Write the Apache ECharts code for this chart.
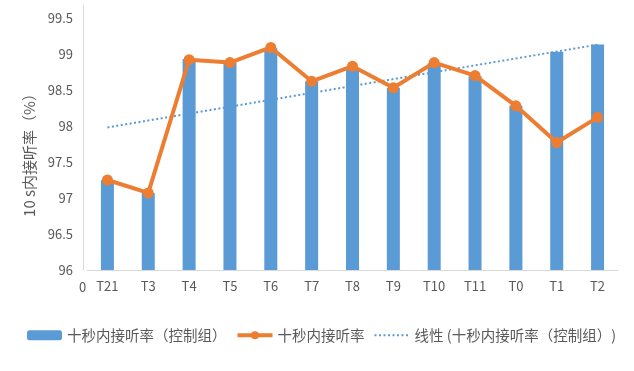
<!DOCTYPE html>
<html>
<head>
<meta charset="utf-8">
<script src="https://cdn.jsdelivr.net/npm/echarts@6/dist/echarts.min.js"></script>
<style>
html,body{margin:0;padding:0;background:#fff;}
#chart{width:634px;height:371px;}
</style>
</head>
<body>
<div id="chart"></div>
<script>
const categories = ['T21','T3','T4','T5','T6','T7','T8','T9','T10','T11','T0','T1','T2'];
const controlRate = [97.25, 97.07, 98.93, 98.88, 99.08, 98.62, 98.80, 98.53, 98.87, 98.69, 98.28, 99.03, 99.13];
const tenSecRate = [97.25, 97.07, 98.92, 98.88, 99.09, 98.62, 98.83, 98.53, 98.88, 98.70, 98.28, 97.77, 98.12];
const trendEnds = [97.98, 99.13];
const seriesNames = ['十秒内接听率（控制组）', '十秒内接听率', '线性 (十秒内接听率（控制组）)'];
const yAxisTitle = '10 s内接听率（%）';
const originLabel = '0';

const trendData = categories.map((c, i) => i === 0 ? trendEnds[0] : (i === categories.length - 1 ? trendEnds[1] : null));

const grey = '#595959';
const font = '"Noto Sans CJK SC", "Noto Sans", sans-serif';
const chart = echarts.init(document.getElementById('chart'));
chart.setOption({
  animation: false,
  textStyle: { fontFamily: font },
  grid: { left: 87, right: 16, top: 5, bottom: 101 },
  legend: {
    data: [
      { name: seriesNames[0] },
      { name: seriesNames[1], lineStyle: { width: 4 } },
      { name: seriesNames[2], itemStyle: { color: 'rgba(0,0,0,0)', borderWidth: 0, opacity: 0 } }
    ],
    top: 328,
    left: 27,
    width: 607,
    padding: 0,
    itemWidth: 35,
    itemHeight: 10,
    itemGap: 9,
    textStyle: { fontSize: 14.5, color: grey, fontFamily: font }
  },
  graphic: [{
    type: 'text',
    left: 79,
    top: 281,
    style: { text: originLabel, fill: grey, fontSize: 13, fontFamily: font }
  }],
  xAxis: {
    type: 'category',
    data: categories,
    axisLine: { lineStyle: { color: '#d9d9d9', width: 1 } },
    axisTick: { show: false },
    axisLabel: { color: grey, fontSize: 13, margin: 10, fontFamily: font }
  },
  yAxis: {
    type: 'value',
    min: 96,
    max: 99.68,
    interval: 0.5,
    offset: 4,
    name: yAxisTitle,
    nameLocation: 'middle',
    nameGap: 44,
    nameTextStyle: { color: grey, fontSize: 15, fontFamily: font, padding: [0, 28, 0, 0] },
    axisLine: { show: true, lineStyle: { color: '#d9d9d9', width: 1 } },
    axisTick: { show: false },
    splitLine: { show: false },
    axisLabel: { color: grey, fontSize: 13, margin: 10, showMaxLabel: false, fontFamily: font }
  },
  series: [
    {
      name: seriesNames[0],
      type: 'bar',
      data: controlRate,
      barWidth: 13,
      itemStyle: { color: '#5B9BD5' },
      z: 2
    },
    {
      name: seriesNames[1],
      type: 'line',
      data: tenSecRate,
      symbol: 'circle',
      symbolSize: 11,
      lineStyle: { color: '#ED7D31', width: 4 },
      itemStyle: { color: '#ED7D31' },
      z: 4
    },
    {
      name: seriesNames[2],
      type: 'line',
      data: trendData,
      connectNulls: true,
      symbol: 'none',
      lineStyle: { color: '#5B9BD5', width: 2, type: [2, 2.5] },
      itemStyle: { color: '#5B9BD5' },
      z: 3
    }
  ]
});
</script>
</body>
</html>
